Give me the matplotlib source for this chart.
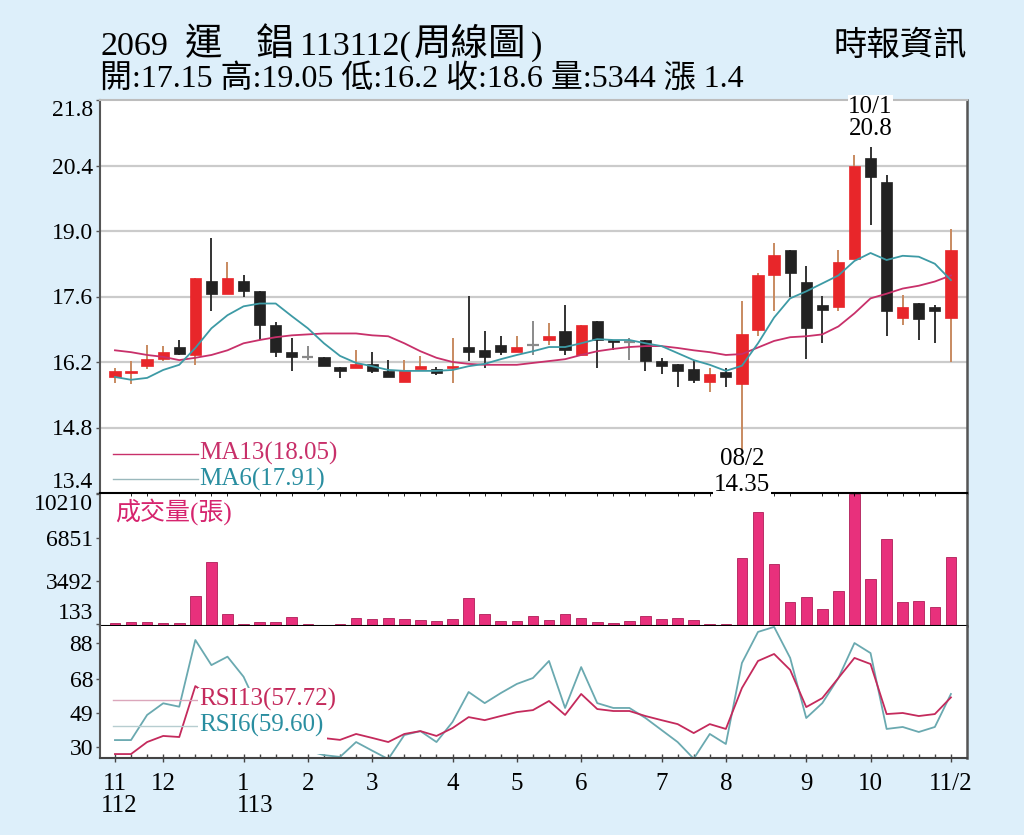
import matplotlib
matplotlib.use('Agg')
import matplotlib.pyplot as plt
import matplotlib.transforms as mtransforms
from matplotlib.patches import Rectangle
import numpy as np

plt.rcParams['font.family'] = ['Liberation Serif', 'Noto Sans CJK TC']

# ---------------- data ----------------
opens = [15.88, 15.97, 16.11, 16.26, 16.52, 16.35, 17.94, 17.66, 17.94, 17.71,
         17.00, 16.41, 16.31, 16.31, 16.09, 16.07, 16.16, 16.01, 15.78, 16.05,
         16.05, 16.07, 16.52, 16.46, 16.56, 16.41, 16.56, 16.67, 16.86, 16.35,
         17.07, 16.67, 16.63, 16.67, 16.22, 16.16, 16.05, 15.78, 15.99, 15.73,
         16.88, 18.07, 18.60, 17.90, 17.41, 17.37, 18.41, 20.55, 20.04, 17.15,
         17.47, 17.37, 17.15]
highs = [16.07, 16.22, 16.56, 16.54, 16.67, 18.00, 18.85, 18.34, 18.05, 17.71,
         17.05, 16.71, 16.54, 16.31, 16.09, 16.45, 16.41, 16.24, 16.24, 16.33,
         16.10, 16.71, 17.62, 16.86, 16.75, 16.75, 17.07, 17.03, 17.41, 17.00,
         17.07, 16.67, 16.71, 16.67, 16.29, 16.16, 16.24, 16.07, 16.07, 17.50,
         18.10, 18.75, 18.60, 18.26, 17.62, 18.60, 20.63, 20.80, 20.19, 17.64,
         17.47, 17.41, 19.05]
lows = [15.75, 15.72, 16.05, 16.22, 16.35, 16.14, 17.30, 17.66, 17.60, 16.67,
        16.31, 16.01, 16.24, 16.11, 15.86, 16.07, 15.97, 15.88, 15.78, 16.05,
        15.93, 15.75, 16.22, 16.07, 16.35, 16.41, 16.35, 16.56, 16.35, 16.35,
        16.07, 16.46, 16.24, 16.01, 15.95, 15.67, 15.75, 15.56, 15.67, 14.35,
        16.75, 17.30, 17.60, 16.26, 16.60, 17.28, 18.41, 19.13, 16.75, 17.00,
        16.67, 16.60, 16.20]
closes = [16.01, 16.00, 16.26, 16.41, 16.37, 18.00, 17.66, 18.00, 17.71, 17.00,
          16.41, 16.31, 16.31, 16.11, 16.01, 16.16, 16.01, 15.88, 16.03, 16.11,
          15.97, 16.11, 16.41, 16.31, 16.41, 16.52, 16.56, 16.75, 16.46, 17.00,
          16.67, 16.63, 16.63, 16.22, 16.11, 16.01, 15.82, 15.95, 15.88, 16.79,
          18.05, 18.49, 18.11, 16.92, 17.32, 18.34, 20.38, 20.15, 17.28, 17.37,
          17.11, 17.28, 18.60]
ma6 = [15.88, 15.82, 15.86, 16.03, 16.14, 16.50, 16.92, 17.20, 17.39, 17.45,
       17.45, 17.18, 16.92, 16.60, 16.33, 16.18, 16.11, 16.03, 16.01, 16.01,
       16.01, 16.03, 16.11, 16.16, 16.26, 16.35, 16.43, 16.52, 16.52, 16.60,
       16.69, 16.67, 16.67, 16.60, 16.54, 16.39, 16.24, 16.14, 16.01, 16.12,
       16.60, 17.15, 17.56, 17.71, 17.88, 18.05, 18.36, 18.53, 18.38, 18.47,
       18.45, 18.30, 17.95]
ma13 = [16.45, 16.41, 16.35, 16.31, 16.24, 16.29, 16.35, 16.45, 16.60, 16.67,
        16.73, 16.77, 16.79, 16.81, 16.81, 16.81, 16.77, 16.75, 16.60, 16.43,
        16.29, 16.20, 16.16, 16.14, 16.14, 16.14, 16.18, 16.22, 16.26, 16.35,
        16.43, 16.48, 16.52, 16.54, 16.54, 16.50, 16.45, 16.41, 16.35, 16.37,
        16.51, 16.65, 16.73, 16.75, 16.79, 16.96, 17.24, 17.56, 17.66, 17.77,
        17.83, 17.92, 18.05]
volume = [210, 310, 310, 210, 210, 2360, 4980, 940, 160, 290,
          290, 680, 130, 40, 180, 650, 520, 650, 570, 470,
          370, 520, 2170, 940, 370, 370, 810, 470, 910, 650,
          310, 260, 360, 810, 520, 650, 470, 130, 180, 5260,
          8800, 4840, 1830, 2280, 1340, 2720, 10210, 3610, 6730, 1830,
          1910, 1470, 5344]
rsi6 = [33.9, 33.9, 47.9, 54.4, 52.5, 89.7, 75.7, 80.4, 69.2, 50.0,
        38.0, 30.0, 28.0, 25.5, 24.5, 32.8, 28.0, 23.3, 36.7, 38.9,
        32.8, 44.0, 60.7, 54.5, 60.1, 65.2, 68.5, 78.0, 51.8, 74.6,
        54.5, 51.8, 51.8, 46.2, 39.5, 32.8, 23.5, 37.3, 31.7, 76.9,
        94.2, 97.0, 79.7, 46.2, 54.5, 68.5, 88.0, 82.4, 40.1, 41.2,
        38.4, 41.2, 59.6]
rsi13 = [26.1, 26.1, 32.8, 36.2, 35.6, 64.0, 57.9, 62.4, 57.3, 52.3,
         45.0, 40.0, 37.0, 35.0, 34.0, 37.3, 35.1, 32.8, 37.3, 38.9,
         36.2, 40.6, 46.7, 45.0, 47.3, 49.5, 50.6, 55.7, 47.9, 59.6,
         51.2, 50.1, 50.1, 47.3, 45.0, 42.8, 37.8, 42.8, 40.1, 62.9,
         78.0, 81.9, 73.0, 52.3, 57.3, 68.5, 79.7, 76.3, 48.4, 49.0,
         47.3, 48.4, 57.7]
month_pos = [0, 3, 8, 12, 16, 21, 25, 29, 34, 38, 43, 47, 52]
month_labels = ['11', '12', '1', '2', '3', '4', '5', '6', '7', '8', '9', '10', '11/2']
year_pos = [0, 8]
year_labels = ['112', '113']
price_ticks = [13.4, 14.8, 16.2, 17.6, 19.0, 20.4, 21.8]
vol_ticks = [133, 3492, 6851, 10210]
rsi_ticks = [30, 49, 68, 88]

# ---------------- styles ----------------
RED = '#e8262a'
BLACK = '#222222'
DOJI = '#8a8a8a'
BG = '#ddeffa'
C_MA13 = '#c8306a'
C_MA6 = '#3d9aa5'
C_VOL = '#e8307c'
C_RSI13 = '#c42a5c'
C_RSI6 = '#6aa9b0'

W, H = 1024, 835
fig = plt.figure(figsize=(W / 100, H / 100), dpi=100)
fig.patch.set_facecolor(BG)


def rect(x0, y0, x1, y1):
    return [x0 / W, 1 - y1 / H, (x1 - x0) / W, (y1 - y0) / H]


ax1 = fig.add_axes(rect(100, 100, 967, 493))
ax2 = fig.add_axes(rect(100, 493, 967, 626), sharex=ax1)
ax3 = fig.add_axes(rect(100, 626, 967, 758), sharex=ax1)
ax1.set_zorder(3)

x = np.arange(len(closes))

# candles
for i in x:
    o, h, l, c = opens[i], highs[i], lows[i], closes[i]
    if c > o:
        col, wcol = RED, '#c88a60'
    elif c < o:
        col, wcol = BLACK, '#333333'
    else:
        col, wcol = DOJI, DOJI
    ax1.vlines(i, l, h, color=wcol, lw=1.4, zorder=2)
    if c != o:
        ax1.bar(i, c - o, bottom=o, width=0.7, color=col, edgecolor=col, lw=0.5, zorder=3)
    else:
        ax1.hlines(o, i - 0.35, i + 0.35, color=col, lw=1.6, zorder=3)

ax1.plot(x, ma13, color=C_MA13, lw=1.3, zorder=4)
ax1.plot(x, ma6, color=C_MA6, lw=1.3, zorder=4)

ax1.set_ylim(13.4, 21.8)
ax1.set_xlim(-0.93, 53.0)
for v in price_ticks[1:-1]:
    ax1.axhline(v, color='#cbcbcb', lw=1.6, zorder=1)
ax1.set_yticks(price_ticks)
ax1.set_yticklabels([f'{v:.1f}' for v in price_ticks])
ax1.tick_params(axis='y', labelsize=17, length=3, width=1, color='#555555', pad=2)
ax1.tick_params(axis='x', bottom=False, labelbottom=False)
lbls = ax1.get_yticklabels()
lbls[0].set_va('bottom')
lbls[-1].set_va('top')

# annotations for high / low
hi_i = int(np.argmax(highs))
lo_i = int(np.argmin(lows))
bb = dict(facecolor='white', edgecolor='none', pad=0.3)
ax1.annotate('10/1', xy=(hi_i, highs[hi_i]), xytext=(0, 29), textcoords='offset points',
             ha='center', va='center', fontsize=18, annotation_clip=False, zorder=10, bbox=bb)
ax1.annotate(f'{highs[hi_i]:g}', xy=(hi_i, highs[hi_i]), xytext=(0, 13), textcoords='offset points',
             ha='center', va='center', fontsize=18, annotation_clip=False, zorder=11)
ax1.annotate('08/2', xy=(lo_i, lows[lo_i]), xytext=(0, -7.5), textcoords='offset points',
             ha='center', va='center', fontsize=18, annotation_clip=False, zorder=10)
ax1.annotate(f'{lows[lo_i]:.2f}', xy=(lo_i, lows[lo_i]), xytext=(0, -26.5), textcoords='offset points',
             ha='center', va='center', fontsize=18, annotation_clip=False, zorder=10, bbox=bb)

# MA legend
ax1.plot([0.015, 0.113], [0.10, 0.10], transform=ax1.transAxes, color=C_MA13, lw=1.0)
ax1.text(0.114, 0.10, f'MA13({ma13[-1]:.2f})', transform=ax1.transAxes, color=C_MA13,
         fontsize=18, va='center', ha='left')
ax1.plot([0.015, 0.113], [0.035, 0.035], transform=ax1.transAxes, color='#9ab8bc', lw=1.0)
ax1.text(0.114, 0.035, 'MA6(17.91)', transform=ax1.transAxes, color='#2a8ea0',
         fontsize=18, va='center', ha='left')

ax1.spines['top'].set_color('#bdbdbd')
ax1.spines['top'].set_linewidth(1.5)
ax1.spines['right'].set_color('#555555')
ax1.spines['right'].set_linewidth(1.8)
ax1.spines['left'].set_color('#555555')
ax1.spines['left'].set_linewidth(1.5)
ax1.spines['bottom'].set_color('black')
ax1.spines['bottom'].set_linewidth(1.5)

# volume
ax2.bar(x, volume, width=0.66, color=C_VOL, edgecolor='#b01e58', lw=0.6, zorder=2)
ax2.set_ylim(0, 10300)
ax2.set_yticks(vol_ticks)
ax2.set_yticklabels([str(v) for v in vol_ticks])
ax2.tick_params(axis='y', labelsize=17, length=3, width=1, color='#555555', pad=2)
ax2.tick_params(axis='x', bottom=False, labelbottom=False)
vl = ax2.get_yticklabels()
vl[0].set_va('bottom')
vl[-1].set_va('top')
ax2.text(0.017, 0.86, '成交量(張)', transform=ax2.transAxes, color='#d6246e', fontsize=18,
         va='center', ha='left')
ax2.spines['top'].set_visible(False)
ax2.spines['bottom'].set_color('black')
ax2.spines['bottom'].set_linewidth(1.5)
ax2.spines['left'].set_color('#555555')
ax2.spines['left'].set_linewidth(1.5)
ax2.spines['right'].set_color('#555555')
ax2.spines['right'].set_linewidth(1.8)

# RSI
ax3.plot(x, rsi6, color=C_RSI6, lw=1.3, zorder=2)
ax3.plot(x, rsi13, color=C_RSI13, lw=1.3, zorder=3)
ax3.set_ylim(23.9, 97.5)
ax3.set_yticks(rsi_ticks)
ax3.set_yticklabels([str(v) for v in rsi_ticks])
ax3.tick_params(axis='y', labelsize=17, length=3, width=1, color='#555555', pad=2)
ax3.set_xticks(month_pos)
ax3.set_xticklabels(month_labels)
ax3.set_xticks(x, minor=True)
ax3.tick_params(axis='x', which='major', labelsize=18, length=6, width=1, direction='inout',
                color='#444444', pad=8)
ax3.tick_params(axis='x', which='minor', length=3, width=1, direction='in', color='#444444')
blend = mtransforms.blended_transform_factory(ax3.transData, ax3.transAxes)
for p, t, dx in zip(year_pos, year_labels, [-0.9, -0.4]):
    ax3.text(p + dx, -0.36, t, transform=blend, fontsize=18, ha='left', va='center')

# RSI legend (white block hides the lines behind the labels)
ax3.add_patch(Rectangle((0.114, 0.03), 0.148, 0.37, transform=ax3.transAxes,
                        facecolor='white', edgecolor='none', zorder=4))
ax3.plot([0.015, 0.113], [0.44, 0.44], transform=ax3.transAxes, color='#dba7bb', lw=1.0, zorder=4)
ax3.text(0.114, 0.44, f'RSI13({57.72:.2f})', transform=ax3.transAxes, color=C_RSI13, fontsize=18,
         va='center', ha='left', zorder=5, bbox=dict(facecolor='white', edgecolor='none', pad=0.3))
ax3.plot([0.015, 0.113], [0.245, 0.245], transform=ax3.transAxes, color='#b7cdd0', lw=1.0, zorder=4)
ax3.text(0.114, 0.245, f'RSI6({59.60:.2f})', transform=ax3.transAxes, color='#2a8ea0', fontsize=18,
         va='center', ha='left', zorder=5, bbox=dict(facecolor='white', edgecolor='none', pad=0.3))
ax3.spines['top'].set_visible(False)
ax3.spines['bottom'].set_color('#444444')
ax3.spines['bottom'].set_linewidth(1.5)
ax3.spines['bottom'].set_zorder(6)
ax3.spines['left'].set_color('#555555')
ax3.spines['left'].set_linewidth(1.5)
ax3.spines['right'].set_color('#555555')
ax3.spines['right'].set_linewidth(1.8)

# header
hdr = [('2069', 100, 24.5), ('運', 185, 27), ('錩', 256, 27), ('113112(', 300, 24.5),
       ('周線圖', 414, 27), (')', 531, 24.5)]
for t, px, fs in hdr:
    fig.text(px / W, 1 - 55 / H, t, fontsize=fs, ha='left', va='baseline')
fig.text(100 / W, 1 - 88 / H, '開:17.15 高:19.05 低:16.2 收:18.6 量:5344 漲 1.4', fontsize=23,
         ha='left', va='baseline')
fig.text(967 / W, 1 - 46 / H, '時報資訊', fontsize=24, ha='right', va='center')

fig.savefig('out.png', dpi=100, facecolor=BG)
